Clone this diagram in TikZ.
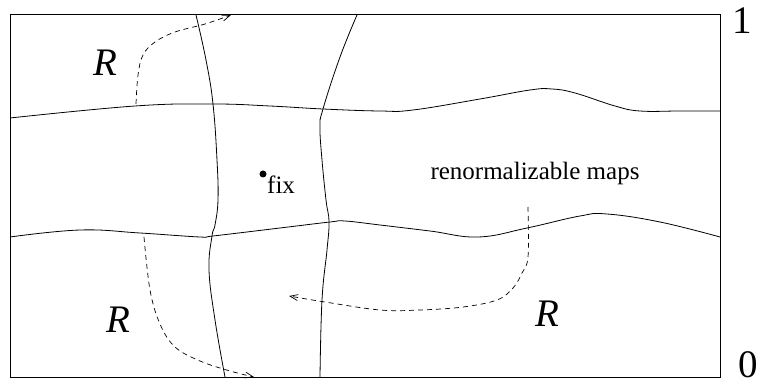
\documentclass[tikz,border=0pt]{standalone}
\usepackage{fontspec}
\setmainfont{Liberation Serif}
\usetikzlibrary{arrows.meta}
\begin{document}
\begin{tikzpicture}[x=1pt,y=-1pt,
  curve/.style={line width=0.8pt},
  flow/.style={line width=0.7pt,dash pattern=on 5pt off 4pt,-{Straight Barb[length=8pt,width=6pt]}},
  biglbl/.style={font=\fontsize{39}{44}\selectfont,inner sep=0pt},
  lbl/.style={font=\fontsize{25}{30}\selectfont,inner sep=0pt}]
\useasboundingbox (0,0) rectangle (763,387);
% frame
\draw[line width=1pt] (10,15) rectangle (720,377);
% horizontal curves
\draw[curve] plot[smooth,tension=0.7] coordinates {(10,118) (135,106) (213,104) (270,106) (323,109) (380,111) (413,110) (480,99) (530,90) (552,89) (575,93) (615,106) (640,111) (680,111) (720,111)};
\draw[curve] plot[smooth,tension=0.7] coordinates {(10,237) (80,230) (140,233) (200,237) (213,236) (280,228) (330,222) (345,221) (380,225) (430,231) (478,237) (527,228) (580,216) (607,214) (660,222) (720,237)};
% vertical curves
\draw[curve] plot[smooth,tension=0.7] coordinates {(196,15) (206,60) (213,104) (217,160) (218,200) (215,225) (212,236) (209,270) (215,320) (225,377)};
\draw[curve] plot[smooth,tension=0.7] coordinates {(357,15) (340,57) (323,109) (320,127) (322,160) (326,200) (329,222) (327,250) (322,300) (320,377)};
% dashed arrows
\draw[flow] plot[smooth,tension=0.6] coordinates {(136,104) (138,75) (143,55) (155,42) (175,32) (205,24) (231,15)};
\draw[flow] plot[smooth,tension=0.6] coordinates {(144,237) (150,290) (160,324) (175,347) (200,361) (230,371) (254,377)};
\draw[flow] plot[smooth,tension=0.6] coordinates {(528,207) (528,257) (522,273) (513,288) (497,300) (463,307) (420,310) (380,310) (325,302) (289,296)};
% labels
\node[biglbl] (r1) at (105,63) {\textit{R}};
\node[biglbl] (r2) at (118,320) {\textit{R}};
\node[biglbl] (r3) at (547,314) {\textit{R}};
\node[biglbl] (one) at (742,21) {1};
\node[biglbl] (zero) at (748,365) {0};
\node[lbl,anchor=base] (ren) at (535,180) {renormalizable maps};
\fill (263,174) circle (3.5pt) coordinate (fixpt);
\node[lbl,anchor=base west] (fix) at (267,194) {fix};
\end{tikzpicture}
\end{document}
